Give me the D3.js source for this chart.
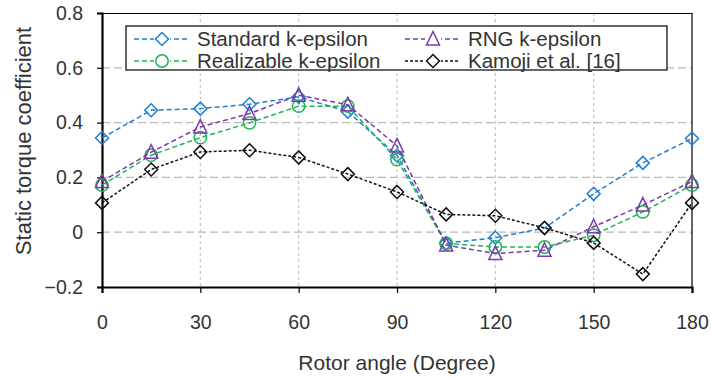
<!DOCTYPE html>
<html>
<head>
<meta charset="utf-8">
<title>Static torque coefficient</title>
<script src="https://d3js.org/d3.v7.min.js"></script>
<style>
body { margin: 0; background: #fff; }
text { font-family: "Liberation Sans", Arial, sans-serif; fill: #333; }
</style>
</head>
<body>
<div id="chart"></div>
<script>
// data
var angles = [0, 15, 30, 45, 60, 75, 90, 105, 120, 135, 150, 165, 180];
var standardKE   = [0.344, 0.445, 0.451, 0.467, 0.494, 0.440, 0.280, -0.040, -0.020, 0.015, 0.140, 0.253, 0.342];
var realizableKE = [0.172, 0.281, 0.345, 0.399, 0.460, 0.460, 0.265, -0.041, -0.054, -0.054, -0.011, 0.074, 0.172];
var rngKE        = [0.185, 0.292, 0.384, 0.433, 0.500, 0.465, 0.315, -0.047, -0.078, -0.066, 0.020, 0.099, 0.185];
var kamoji       = [0.107, 0.229, 0.293, 0.299, 0.273, 0.212, 0.147, 0.065, 0.060, 0.016, -0.039, -0.153, 0.107];
var xTicks = [0, 30, 60, 90, 120, 150, 180];
var yTicks = [-0.2, 0, 0.2, 0.4, 0.6, 0.8];

var series = [
  {name: "Standard k-epsilon",   values: standardKE,   color: "#1f7fd4", marker: "diamond"},
  {name: "RNG k-epsilon",        values: rngKE,        color: "#7a3aaa", marker: "triangle"},
  {name: "Realizable k-epsilon", values: realizableKE, color: "#1db352", marker: "circle"},
  {name: "Kamoji et al. [16]",   values: kamoji,       color: "#111111", marker: "diamond"}
];

var W = 711, H = 378;
var margin = {top: 13, right: 19, bottom: 91, left: 102},
    width = W - margin.left - margin.right,
    height = H - margin.top - margin.bottom;

var svg = d3.select("#chart").append("svg")
    .attr("width", W)
    .attr("height", H);
var g = svg.append("g")
    .attr("transform", "translate(" + margin.left + "," + margin.top + ")");

var x = d3.scaleLinear().domain([0, 180]).range([0, width]);
var y = d3.scaleLinear().domain([-0.2, 0.8]).range([height, 0]);

// grid
g.selectAll(".hgrid").data(yTicks.slice(1, -1)).enter().append("line")
    .attr("x1", 0).attr("x2", width)
    .attr("y1", function(d) { return y(d); }).attr("y2", function(d) { return y(d); })
    .attr("stroke", "#b8b8b8").attr("stroke-width", 1.2).attr("stroke-dasharray", "8,4");
g.selectAll(".vgrid").data(xTicks.slice(1, -1)).enter().append("line")
    .attr("x1", function(d) { return x(d); }).attr("x2", function(d) { return x(d); })
    .attr("y1", 0).attr("y2", height)
    .attr("stroke", "#c4c4c4").attr("stroke-width", 1.2).attr("stroke-dasharray", "3,3");

// frame top/right
g.append("line").attr("x1", 0).attr("x2", width).attr("y1", 0.5).attr("y2", 0.5)
    .attr("stroke", "#000").attr("stroke-width", 1.2);
g.append("line").attr("x1", width).attr("x2", width).attr("y1", 0).attr("y2", height)
    .attr("stroke", "#000").attr("stroke-width", 1.2);

// axes
var xAxis = g.append("g")
    .attr("transform", "translate(0," + height + ")")
    .call(d3.axisBottom(x).tickValues(xTicks).tickSize(6).tickPadding(22));
var yAxis = g.append("g")
    .call(d3.axisLeft(y).tickValues(yTicks).tickSize(5).tickPadding(14)
      .tickFormat(function(d) { return d === 0 ? "0" : d3.format(".1f")(d); }));
[xAxis, yAxis].forEach(function(a) {
  a.select(".domain").attr("stroke", "#000").attr("stroke-width", 2.2);
  a.selectAll(".tick line").attr("stroke", "#000").attr("stroke-width", 1.2);
  a.selectAll(".tick text").style("font-size", "19.5px").attr("fill", "#333");
});

// markers
function drawMarker(sel, type, color, r) {
  if (type === "circle") {
    sel.append("circle").attr("r", r).attr("fill", "none").attr("stroke", color).attr("stroke-width", 1.5);
  } else if (type === "triangle") {
    sel.append("path").attr("d", "M0," + (-r - 1) + "L" + r + "," + (r - 0.5) + "L" + (-r) + "," + (r - 0.5) + "Z")
      .attr("fill", "none").attr("stroke", color).attr("stroke-width", 1.5);
  } else {
    sel.append("path").attr("d", "M0," + (-r) + "L" + r + ",0L0," + r + "L" + (-r) + ",0Z")
      .attr("fill", "none").attr("stroke", color).attr("stroke-width", 1.5);
  }
}
function markerSize(type) { return type === "circle" ? 6.2 : 6.5; }

var line = d3.line()
    .x(function(d, i) { return x(angles[i]); })
    .y(function(d) { return y(d); });

var drawOrder = [series[0], series[2], series[1], series[3]];
drawOrder.forEach(function(s) {
  g.append("path").datum(s.values)
    .attr("d", line)
    .attr("fill", "none")
    .attr("stroke", s.color)
    .attr("stroke-width", 1.5)
    .attr("stroke-dasharray", s === series[3] ? "3,2" : "5,3");
  s.values.forEach(function(v, i) {
    var m = g.append("g").attr("transform", "translate(" + x(angles[i]) + "," + y(v) + ")");
    drawMarker(m, s.marker, s.color, markerSize(s.marker));
  });
});

// legend
var legend = svg.append("g");
legend.append("rect")
    .attr("x", 126).attr("y", 26).attr("width", 541).attr("height", 44)
    .attr("fill", "#fff").attr("stroke", "#000").attr("stroke-width", 1.2);
var legendPos = [
  {s: series[0], x: 134, y: 39},
  {s: series[1], x: 405, y: 39},
  {s: series[2], x: 134, y: 61},
  {s: series[3], x: 405, y: 61}
];
legendPos.forEach(function(p) {
  var item = legend.append("g").attr("transform", "translate(" + p.x + "," + p.y + ")");
  item.append("line").attr("x1", 0).attr("x2", 53).attr("y1", 0).attr("y2", 0)
    .attr("stroke", p.s.color).attr("stroke-width", 1.5)
    .attr("stroke-dasharray", p.s === series[3] ? "3,2" : "5,3");
  var m = item.append("g").attr("transform", "translate(28,0)");
  m.append("rect").attr("x", -8).attr("y", -8).attr("width", 16).attr("height", 16).attr("fill", "#fff");
  drawMarker(m, p.s.marker, p.s.color, markerSize(p.s.marker));
  item.append("text").attr("x", 63).attr("y", 0).attr("dy", "0.36em")
    .style("font-size", "20.5px").text(p.s.name);
});

// axis titles
svg.append("text")
    .attr("x", margin.left + width / 2).attr("y", 370)
    .attr("text-anchor", "middle")
    .style("font-size", "21px")
    .text("Rotor angle (Degree)");
svg.append("text")
    .attr("transform", "translate(31,141) rotate(-90)")
    .attr("text-anchor", "middle")
    .style("font-size", "22px")
    .text("Static torque coefficient");
</script>
</body>
</html>
